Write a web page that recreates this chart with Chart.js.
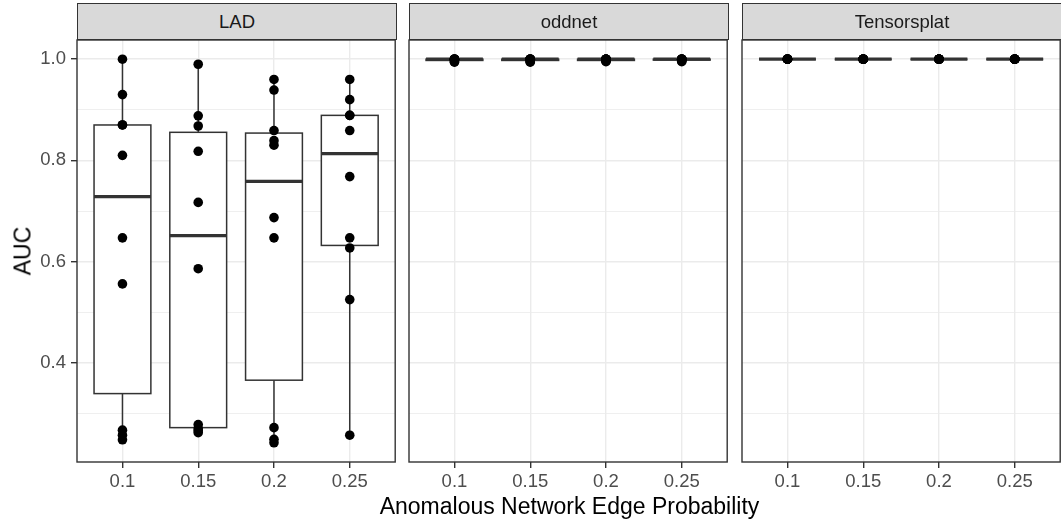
<!DOCTYPE html>
<html>
<head>
<meta charset="utf-8">
<title>AUC by anomalous edge probability</title>
<script src="https://cdn.jsdelivr.net/npm/chart.js@4.4.1/dist/chart.umd.min.js"></script>
<style>
  body { margin: 0; background: #fff; }
  #wrap {
    position: relative; width: 1061px; height: 521px; overflow: hidden;
    font-family: "Liberation Sans", Arial, sans-serif;
  }
  canvas { position: absolute; top: 0; }
  .strip {
    position: absolute; top: 3px; width: 320px; height: 37px; box-sizing: border-box;
    background: #d9d9d9; border: 1.3px solid #333333;
    display: flex; align-items: center; justify-content: center;
    font-size: 18.5px; color: #1a1a1a;
  }
  #ytitle {
    position: absolute; left: 22.5px; top: 251px; font-size: 23px; line-height: 23px;
    transform: translate(-50%, -50%) rotate(-90deg); white-space: nowrap;
  }
  #xtitle {
    position: absolute; left: 0; width: 1139px; top: 495px; text-align: center;
    font-size: 23px; line-height: 23px; white-space: nowrap;
  }
</style>
</head>
<body>
<div id="wrap">
  <div id="ytitle">AUC</div>
  <div id="xtitle">Anomalous Network Edge Probability</div>
</div>
<script>
const categories = ["0.1", "0.15", "0.2", "0.25"];
const panelNames = ["LAD", "oddnet", "Tensorsplat"];

// AUC per run, one list per edge probability
const ladAuc = [
  [1.0, 0.93, 0.87, 0.87, 0.81, 0.647, 0.556, 0.267, 0.257, 0.248],
  [0.99, 0.888, 0.868, 0.818, 0.717, 0.586, 0.278, 0.27, 0.266, 0.262],
  [0.96, 0.939, 0.859, 0.839, 0.83, 0.687, 0.647, 0.272, 0.249, 0.242],
  [0.96, 0.92, 0.889, 0.889, 0.859, 0.768, 0.647, 0.627, 0.525, 0.257]
];
const oddnetAuc = [
  [1, 1, 1, 1, 1, 1, 0.999, 0.997, 0.995, 0.994],
  [1, 1, 1, 1, 1, 1, 0.999, 0.997, 0.995, 0.994],
  [1, 1, 1, 1, 1, 1, 0.999, 0.997, 0.996, 0.995],
  [1, 1, 1, 1, 1, 1, 0.999, 0.998, 0.996, 0.995]
];
const tensorsplatAuc = [
  [1, 1, 1, 1, 1, 1, 1, 1, 1, 1],
  [1, 1, 1, 1, 1, 1, 1, 1, 1, 1],
  [1, 1, 1, 1, 1, 1, 1, 1, 1, 1],
  [1, 1, 1, 1, 1, 1, 1, 1, 1, 1]
];
const yTicks = [0.3, 0.4, 0.5, 0.6, 0.7, 0.8, 0.9, 1.0];

const panels = [ladAuc, oddnetAuc, tensorsplatAuc];
const panelLeft = [77, 409, 742];
const FONT = "'Liberation Sans', Arial, sans-serif";
Chart.defaults.font.family = FONT;

// shared y range, padded 5% like ggplot
const allVals = panels.flat(2);
const lo = Math.min(...allVals), hi = Math.max(...allVals);
const yMin = lo - 0.05 * (hi - lo), yMax = hi + 0.05 * (hi - lo);

function quantile(sorted, p) {
  const h = (sorted.length - 1) * p;
  const i = Math.floor(h);
  if (i + 1 >= sorted.length) return sorted[i];
  return sorted[i] + (h - i) * (sorted[i + 1] - sorted[i]);
}

function boxStats(vals) {
  const s = [...vals].sort((a, b) => a - b);
  const q1 = quantile(s, 0.25), med = quantile(s, 0.5), q3 = quantile(s, 0.75);
  const iqr = q3 - q1;
  const inside = s.filter(v => v >= q1 - 1.5 * iqr && v <= q3 + 1.5 * iqr);
  return { q1, med, q3, lo: Math.min(...inside), hi: Math.max(...inside) };
}

function boxPlugin(stats) {
  return {
    id: "boxes",
    beforeDatasetsDraw(chart) {
      const { ctx, scales: { x, y } } = chart;
      stats.forEach((s, i) => {
        const left = x.getPixelForValue(i - 0.375);
        const right = x.getPixelForValue(i + 0.375);
        const cx = x.getPixelForValue(i);
        const top = y.getPixelForValue(s.q3), bottom = y.getPixelForValue(s.q1);
        const mid = y.getPixelForValue(s.med);
        ctx.save();
        ctx.strokeStyle = "#333333";
        ctx.lineWidth = 1.5;
        ctx.beginPath();
        ctx.moveTo(cx, top); ctx.lineTo(cx, y.getPixelForValue(s.hi));
        ctx.moveTo(cx, bottom); ctx.lineTo(cx, y.getPixelForValue(s.lo));
        ctx.stroke();
        ctx.fillStyle = "#ffffff";
        ctx.fillRect(left, top, right - left, bottom - top);
        ctx.strokeRect(left, top, right - left, bottom - top);
        ctx.lineWidth = 3.2;
        ctx.beginPath();
        ctx.moveTo(left, mid); ctx.lineTo(right, mid);
        ctx.stroke();
        ctx.restore();
      });
    }
  };
}

const panelBorder = {
  id: "panelBorder",
  afterDraw(chart) {
    const { ctx, chartArea: a } = chart;
    ctx.save();
    ctx.strokeStyle = "#333333";
    ctx.lineWidth = 1.4;
    ctx.strokeRect(a.left, a.top, a.right - a.left, a.bottom - a.top);
    ctx.restore();
  }
};

const isMajor = v => Math.round(v * 10) % 2 === 0;
const wrap = document.getElementById("wrap");

panels.forEach((runs, p) => {
  const strip = document.createElement("div");
  strip.className = "strip";
  strip.style.left = panelLeft[p] + "px";
  strip.textContent = panelNames[p];
  wrap.appendChild(strip);

  const canvas = document.createElement("canvas");
  canvas.width = 400;
  canvas.height = 521;
  canvas.style.left = (panelLeft[p] - 77) + "px";
  wrap.insertBefore(canvas, wrap.firstChild);

  const points = runs.flatMap((vals, i) => vals.map(v => ({ x: i, y: v })));

  new Chart(canvas, {
    type: "scatter",
    data: {
      datasets: [{
        data: points,
        pointRadius: 4.8,
        pointBackgroundColor: "#000000",
        pointBorderWidth: 0
      }]
    },
    options: {
      responsive: false,
      animation: false,
      layout: { padding: { top: 40, right: 3, left: 0, bottom: 0 } },
      plugins: { legend: { display: false }, tooltip: { enabled: false } },
      scales: {
        x: {
          type: "linear",
          min: -0.6,
          max: 3.6,
          afterBuildTicks: s => { s.ticks = categories.map((_, i) => ({ value: i })); },
          afterFit: s => { s.height = 59; },
          ticks: {
            callback: v => categories[v],
            color: "#4d4d4d",
            font: { size: 18.5 },
            padding: 3,
            maxRotation: 0,
            autoSkip: false
          },
          grid: { color: "#ebebeb", lineWidth: 1.4, tickLength: 6, tickColor: "#333333" },
          border: { display: false }
        },
        y: {
          min: yMin,
          max: yMax,
          afterBuildTicks: s => { s.ticks = yTicks.map(v => ({ value: v })); },
          afterFit: s => { s.width = 77; },
          ticks: {
            display: p === 0,
            callback: v => isMajor(v) ? v.toFixed(1) : "",
            color: "#4d4d4d",
            font: { size: 18.5 },
            padding: 5
          },
          grid: {
            color: "#ebebeb",
            lineWidth: c => isMajor(c.tick.value) ? 1.4 : 0.8,
            tickLength: 6,
            tickColor: c => (p === 0 && isMajor(c.tick.value)) ? "#333333" : "rgba(0,0,0,0)"
          },
          border: { display: false }
        }
      }
    },
    plugins: [boxPlugin(runs.map(boxStats)), panelBorder]
  });
});
</script>
</body>
</html>
